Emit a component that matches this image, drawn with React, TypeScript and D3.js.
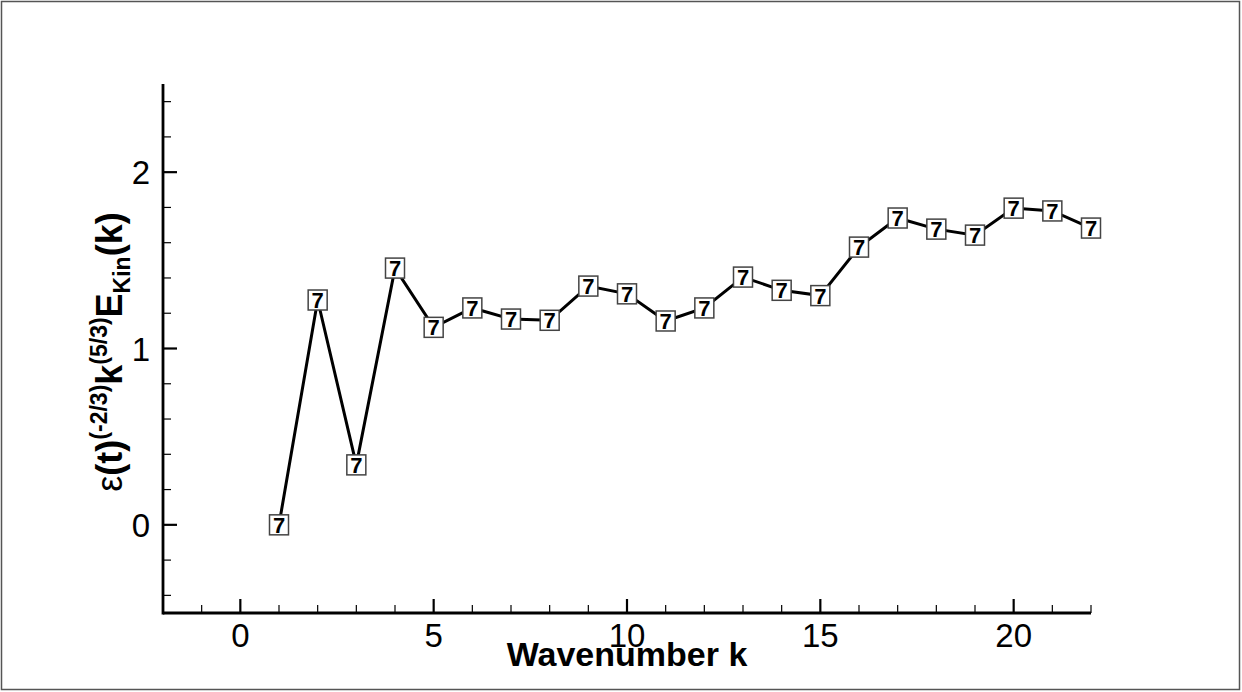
import React from "react";
import * as d3 from "d3";

const wavenumbers = [1, 2, 3, 4, 5, 6, 7, 8, 9, 10, 11, 12, 13, 14, 15, 16, 17, 18, 19, 20, 21, 22];
const values = [0, 1.275, 0.34, 1.456, 1.12, 1.23, 1.167, 1.16, 1.354, 1.31, 1.156, 1.23, 1.405, 1.33, 1.3, 1.575, 1.74, 1.677, 1.643, 1.796, 1.78, 1.683];
const xMajorTicks = [0, 5, 10, 15, 20];
const yMajorTicks = [0, 1, 2];
const markerLabel = "7";

const W = 1242;
const H = 692;
const FONT = "'Liberation Sans', Arial, Helvetica, sans-serif";

export default function App() {
  const x = d3.scaleLinear().domain([-2, 22]).range([163, 1091]);
  const y = d3.scaleLinear().domain([-0.5, 2.5]).range([613, 84]);

  const xMinor = d3.range(-2, 22.001, 1).filter((v) => !xMajorTicks.includes(v));
  const yMinor = d3.range(-0.4, 2.5001, 0.2).map((v) => Math.round(v * 10) / 10).filter((v) => !yMajorTicks.includes(v));

  const pts = wavenumbers.map((k, i) => [k, values[i]] as [number, number]);
  const line = d3
    .line<[number, number]>()
    .x((d) => x(d[0]))
    .y((d) => y(d[1]));

  const x0 = x(-2);
  const x1 = x(22);
  const y0 = y(-0.5);
  const y1 = y(2.5);

  return (
    <svg width={W} height={H} style={{ position: "absolute", left: 0, top: 0, background: "#fff" }}>
      <rect x={1.5} y={1.5} width={W - 4} height={H - 4} fill="#fff" stroke="#555" strokeWidth={1.5} />
      {/* axes */}
      <line x1={x0} y1={y0} x2={x1} y2={y0} stroke="#000" strokeWidth={2.8} />
      <line x1={x0} y1={y0 + 1.4} x2={x0} y2={y1} stroke="#000" strokeWidth={2.8} />
      {/* x ticks */}
      {xMajorTicks.map((t) => (
        <g key={"xm" + t}>
          <line x1={x(t)} x2={x(t)} y1={y0} y2={y0 - 14} stroke="#000" strokeWidth={2.2} />
          <text x={x(t)} y={y0 + 34} textAnchor="middle" fontFamily={FONT} fontSize={33} fill="#000">
            {t}
          </text>
        </g>
      ))}
      {xMinor.map((t) => (
        <line key={"xn" + t} x1={x(t)} x2={x(t)} y1={y0} y2={y0 - 8} stroke="#000" strokeWidth={1.2} />
      ))}
      {/* y ticks */}
      {yMajorTicks.map((t) => (
        <g key={"ym" + t}>
          <line x1={x0} x2={x0 + 14} y1={y(t)} y2={y(t)} stroke="#000" strokeWidth={2.2} />
          <text x={x0 - 13} y={y(t) + 12} textAnchor="end" fontFamily={FONT} fontSize={33} fill="#000">
            {t}
          </text>
        </g>
      ))}
      {yMinor.map((t) => (
        <line key={"yn" + t} x1={x0} x2={x0 + 8} y1={y(t)} y2={y(t)} stroke="#000" strokeWidth={1.2} />
      ))}
      {/* axis titles */}
      <text x={627} y={666} textAnchor="middle" fontFamily={FONT} fontSize={34} fontWeight="bold" fill="#000">
        Wavenumber k
      </text>
      <text
        transform={`translate(122, 352) rotate(-90)`}
        textAnchor="middle"
        fontFamily={FONT}
        fontSize={36}
        fontWeight="bold"
        fill="#000"
      >
        <tspan fontWeight="normal">ε</tspan>
        <tspan>(t)</tspan>
        <tspan fontSize={23} dy={-15}>(-2/3)</tspan>
        <tspan dy={15}>k</tspan>
        <tspan fontSize={23} dy={-15}>(5/3)</tspan>
        <tspan dy={15}>E</tspan>
        <tspan fontSize={23} dy={8}>Kin</tspan>
        <tspan dy={-8}>(k)</tspan>
      </text>
      {/* data line */}
      <path d={line(pts) || ""} fill="none" stroke="#000" strokeWidth={3} />
      {pts.map(([k, v]) => (
        <g key={"p" + k} transform={`translate(${x(k)},${y(v)})`}>
          <rect x={-9.5} y={-10} width={19} height={20} fill="#fff" stroke="#444" strokeWidth={1.5} />
          <text x={0} y={8} textAnchor="middle" fontFamily={FONT} fontSize={22} fontWeight="bold" fill="#000">
            {markerLabel}
          </text>
        </g>
      ))}
    </svg>
  );
}
